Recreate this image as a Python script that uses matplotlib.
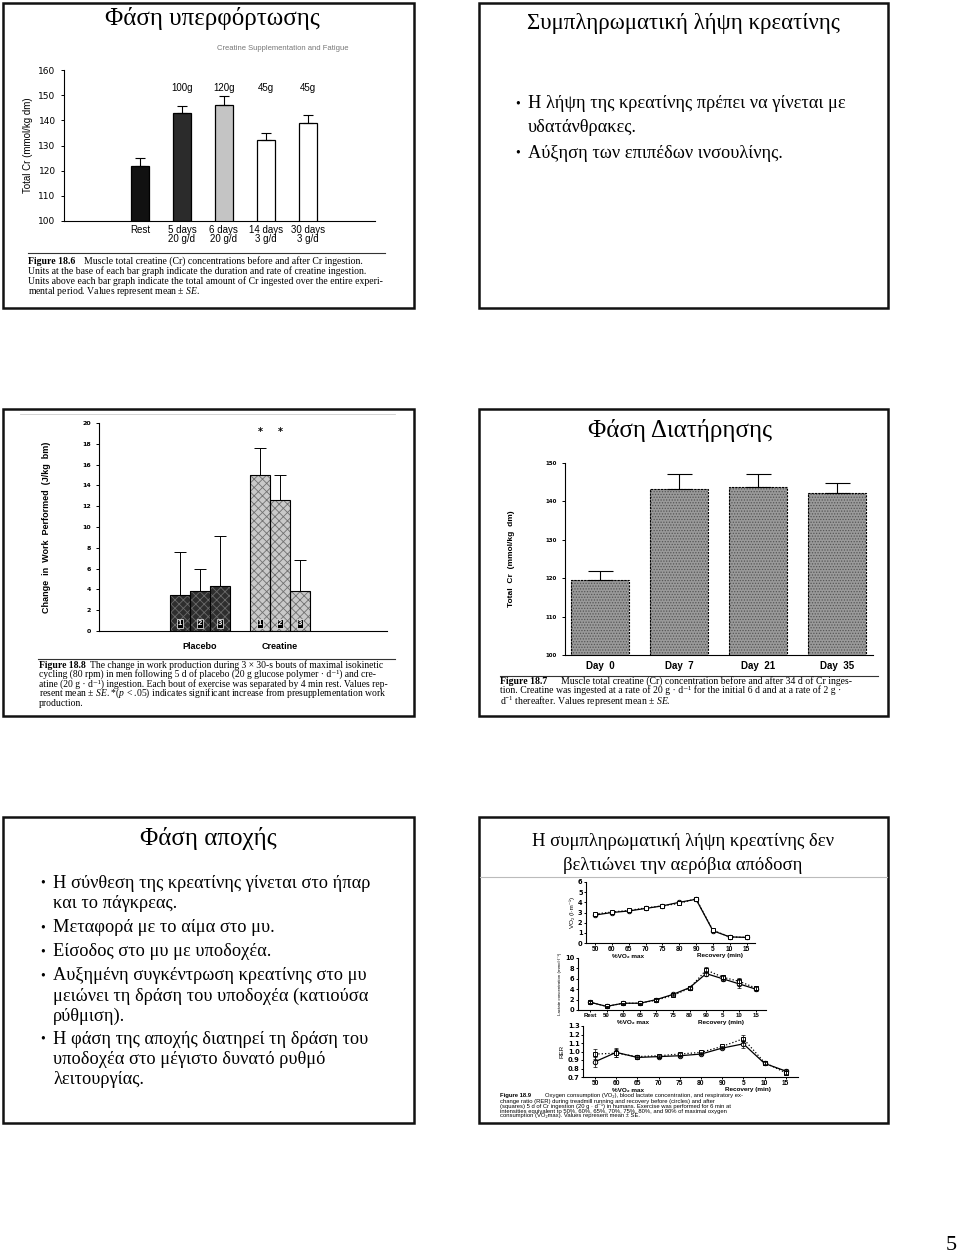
import numpy as np
import matplotlib
matplotlib.use("Agg")
import matplotlib.pyplot as plt
from matplotlib.patches import Rectangle
from matplotlib.lines import Line2D

# ---- data ----
load_labels = ["Rest", "5 days\n20 g/d", "6 days\n20 g/d", "14 days\n3 g/d", "30 days\n3 g/d"]
load_cr = [122, 143, 146, 132, 139]
load_se = [3, 2.5, 3.5, 3, 3]
load_total = ["", "100g", "120g", "45g", "45g"]
load_colors = ["#111111", "#2b2b2b", "#c4c4c4", "white", "white"]

work_groups = ["Placebo", "Creatine"]
work_bouts = ["1", "2", "3"]
work_placebo = [3.5, 3.85, 4.35]
work_placebo_se = [4.1, 2.15, 4.75]
work_creatine = [15.0, 12.6, 3.85]
work_creatine_se = [2.6, 2.4, 2.95]

maint_days = ["Day  0", "Day  7", "Day  21", "Day  35"]
maint_cr = [119.5, 143.3, 143.7, 142.3]
maint_se = [2.5, 3.9, 3.5, 2.5]

vo2_labels = ["50", "60", "65", "70", "75", "80", "90", "5", "10", "15"]
vo2_before = [2.75, 3.0, 3.15, 3.4, 3.65, 4.0, 4.3, 1.2, 0.6, 0.55]
vo2_after = [2.85, 3.05, 3.2, 3.45, 3.65, 3.9, 4.35, 1.25, 0.6, 0.55]

lac_labels = ["Rest", "50", "60", "65", "70", "75", "80", "90", "5", "10", "15"]
lac_before = [1.5, 0.7, 1.3, 1.3, 2.0, 3.0, 4.3, 7.0, 6.0, 5.0, 4.0]
lac_after = [1.5, 0.7, 1.3, 1.3, 1.9, 2.8, 4.2, 7.7, 6.3, 5.5, 4.2]
lac_se = [0.2, 0.1, 0.1, 0.1, 0.2, 0.2, 0.3, 0.5, 0.5, 0.7, 0.4]

rer_labels = ["50", "60", "65", "70", "75", "80", "90", "5", "10", "15"]
rer_before = [0.88, 0.99, 0.93, 0.94, 0.95, 0.97, 1.04, 1.09, 0.86, 0.77]
rer_after = [0.97, 0.98, 0.94, 0.95, 0.97, 0.99, 1.06, 1.15, 0.87, 0.75]
rer_se = [0.06, 0.05, 0.01, 0.01, 0.01, 0.01, 0.01, 0.05, 0.02, 0.03]

W, H = 960, 1256
SERIF = ["Liberation Serif", "DejaVu Serif"]
SANS = ["Liberation Sans", "DejaVu Sans"]

plt.rcParams["mathtext.fontset"] = "custom"
plt.rcParams["mathtext.rm"] = "Liberation Serif"
plt.rcParams["mathtext.it"] = "Liberation Serif:italic"
plt.rcParams["hatch.linewidth"] = 0.6

fig = plt.figure(figsize=(W / 100, H / 100), dpi=100)
fig.patch.set_facecolor("white")
renderer = fig.canvas.get_renderer()


def rect(x0, y0, x1, y1):
    return [x0 / W, 1 - y1 / H, (x1 - x0) / W, (y1 - y0) / H]


def ftext(x, y, s, **kw):
    kw.setdefault("family", SERIF)
    kw.setdefault("va", "center")
    return fig.text(x / W, 1 - y / H, s, **kw)


def hline(x0, x1, y, **kw):
    fig.add_artist(Line2D([x0 / W, x1 / W], [1 - y / H, 1 - y / H],
                          transform=fig.transFigure, **kw))


def slide(x0, y0, x1, y1):
    fig.add_artist(Rectangle((x0 / W, 1 - y1 / H), (x1 - x0) / W, (y1 - y0) / H,
                             transform=fig.transFigure, fill=False, lw=1.8, ec="#111111"))


def caption_first(x, x_rest, y, bold, rest, size, family=SERIF):
    t = ftext(x, y, bold, fontsize=size, weight="bold", family=family)
    bb = t.get_window_extent(renderer=renderer)
    ftext(max(x_rest, bb.x1 + 4), y, rest, fontsize=size, family=family)


def plain_axes(ax):
    for s in ["top", "right"]:
        ax.spines[s].set_visible(False)
    for s in ["left", "bottom"]:
        ax.spines[s].set_linewidth(0.8)
    ax.tick_params(direction="out", length=2.5, width=0.7)


def bullets(x, lines, size):
    for y, s, first in lines:
        if first:
            ftext(x - 13, y, "•", fontsize=size * 0.75)
        ftext(x, y, s, fontsize=size)


# slide frames
slide(3, 3, 414, 308)
slide(479, 3, 888, 308)
slide(3, 409, 414, 716)
slide(479, 409, 888, 716)
slide(3, 817, 414, 1123)
slide(479, 817, 888, 1123)

# ---------- slide 1: loading phase ----------
ftext(212, 18, "Φάση υπερφόρτωσης", fontsize=18, ha="center")
ftext(283, 48, "Creatine Supplementation and Fatigue", fontsize=5.5, ha="center",
      color="#777777", family=SANS)

ax = fig.add_axes(rect(64, 70, 375, 221))
xs = np.arange(len(load_cr))
ax.bar(xs, load_cr, width=0.42, bottom=0, color=load_colors, edgecolor="black", lw=0.9)
ax.errorbar(xs, load_cr, yerr=[np.zeros(len(load_se)), load_se], fmt="none",
            ecolor="black", elinewidth=0.8, capsize=3.5, capthick=0.8)
for x, t in zip(xs, load_total):
    ax.text(x, 153, t, ha="center", va="center", fontsize=7, family=SANS)
ax.set_ylim(100, 160)
ax.set_xlim(-1.81, 5.6)
ax.set_yticks(range(100, 161, 10))
ax.set_xticks(xs, load_labels, fontsize=7, family=SANS, linespacing=0.9)
ax.tick_params(axis="y", labelsize=6.5)
ax.set_ylabel("Total Cr (mmol/kg dm)", fontsize=7, family=SANS, labelpad=4)
plain_axes(ax)
ax.tick_params(axis="x", length=0, pad=3)

hline(28, 385, 253, color="#333333", lw=0.8)
cap = 7.0
caption_first(28, 84, 261, "Figure 18.6",
              "Muscle total creatine (Cr) concentrations before and after Cr ingestion.", cap)
ftext(28, 271, "Units at the base of each bar graph indicate the duration and rate of creatine ingestion.", fontsize=cap)
ftext(28, 281, "Units above each bar graph indicate the total amount of Cr ingested over the entire experi-", fontsize=cap)
ftext(28, 291, "mental period. Values represent mean ± $SE$.", fontsize=cap)

# ---------- slide 2: supplementation text ----------
ftext(683, 23, "Συμπληρωματική λήψη κρεατίνης", fontsize=16.5, ha="center")
bullets(528, [(104, "Η λήψη της κρεατίνης πρέπει να γίνεται με", True),
              (127, "υδατάνθρακες.", False),
              (153, "Αύξηση των επιπέδων ινσουλίνης.", True)], 13.2)

# ---------- slide 3: work performed ----------
hline(20, 395, 414, color="#cccccc", lw=0.6)
ax = fig.add_axes(rect(99, 423, 387, 631))
px = np.arange(3)
cx = np.arange(3) + 4
ax.bar(px, work_placebo, width=1.0, color="#2e2e2e", hatch="xxxx", edgecolor="#6a6a6a", lw=0)
ax.bar(cx, work_creatine, width=1.0, color="#c9c9c9", hatch="xxxx", edgecolor="#707070", lw=0)
ax.bar(np.concatenate([px, cx]), work_placebo + work_creatine, width=1.0, fill=False,
       edgecolor="black", lw=0.8)
ax.errorbar(px, work_placebo, yerr=[np.zeros(3), work_placebo_se], fmt="none",
            ecolor="black", elinewidth=0.7, capsize=4, capthick=0.7)
ax.errorbar(cx, work_creatine, yerr=[np.zeros(3), work_creatine_se], fmt="none",
            ecolor="black", elinewidth=0.7, capsize=4, capthick=0.7)
for x, b in zip(np.concatenate([px, cx]), work_bouts * 2):
    ax.text(x, 0.75, b, ha="center", va="center", fontsize=5.5, color="white",
            weight="bold", family=SANS,
            bbox=dict(boxstyle="square,pad=0.15", fc="black", ec="white", lw=0.5))
for x in cx[:2]:
    ax.text(x, 19.1, "*", ha="center", va="center", fontsize=7, weight="bold")
ax.set_ylim(0, 20)
ax.set_xlim(-4.05, 10.35)
ax.set_yticks(range(0, 21, 2))
ax.set_xticks([1, 5], work_groups, fontsize=6.5, weight="bold", family=SANS)
ax.tick_params(axis="y", labelsize=4.5)
for t in ax.get_yticklabels():
    t.set_fontweight("bold")
ax.set_ylabel("Change  in  Work  Performed  (J/kg  bm)", fontsize=6.5, weight="bold",
              family=SANS, labelpad=22)
plain_axes(ax)
ax.tick_params(axis="x", length=0, pad=8)

hline(38, 395, 659, color="#333333", lw=0.8)
cap = 6.9
caption_first(39, 85, 665, "Figure 18.8",
              "The change in work production during 3 × 30-s bouts of maximal isokinetic", cap)
ftext(39, 674.5, "cycling (80 rpm) in men following 5 d of placebo (20 g glucose polymer · d⁻¹) and cre-", fontsize=cap)
ftext(39, 684, "atine (20 g · d⁻¹) ingestion. Each bout of exercise was separated by 4 min rest. Values rep-", fontsize=cap)
ftext(39, 693.5, "resent mean ± $SE$. *($p$ < .05) indicates significant increase from presupplementation work", fontsize=cap)
ftext(39, 703, "production.", fontsize=cap)

# ---------- slide 4: maintenance ----------
ftext(680, 430, "Φάση Διατήρησης", fontsize=18, ha="center")
ax = fig.add_axes(rect(565, 463, 873, 655))
mx = np.arange(len(maint_cr))
ax.bar(mx, maint_cr, width=0.74, color="#9a9a9a", hatch="......", edgecolor="#555555", lw=0)
ax.bar(mx, maint_cr, width=0.74, fill=False, edgecolor="black", lw=0.8, ls=(0, (2, 1)))
ax.errorbar(mx, maint_cr, yerr=[np.zeros(len(maint_se)), maint_se], fmt="none",
            ecolor="black", elinewidth=0.8, capsize=9, capthick=0.8)
ax.set_ylim(100, 150)
ax.set_xlim(-0.443, 3.456)
ax.set_yticks(range(100, 151, 10))
ax.set_xticks(mx, maint_days, fontsize=7, weight="bold", family=SANS)
ax.tick_params(axis="y", labelsize=4)
for t in ax.get_yticklabels():
    t.set_fontweight("bold")
ax.set_ylabel("Total  Cr  (mmol/kg  dm)", fontsize=6, weight="bold", family=SANS, labelpad=22)
plain_axes(ax)
ax.tick_params(axis="x", length=0, pad=4)

hline(500, 878, 676, color="#333333", lw=0.8)
cap = 7.0
caption_first(500, 561, 681, "Figure 18.7",
              "Muscle total creatine (Cr) concentration before and after 34 d of Cr inges-", cap)
ftext(500, 690.5, "tion. Creatine was ingested at a rate of 20 g · d⁻¹ for the initial 6 d and at a rate of 2 g ·", fontsize=cap)
ftext(500, 701.5, "d$^{-1}$ thereafter. Values represent mean ± $SE$.", fontsize=cap)

# ---------- slide 5: withdrawal text ----------
ftext(208, 838, "Φάση αποχής", fontsize=18, ha="center")
bullets(53, [(883, "Η σύνθεση της κρεατίνης γίνεται στο ήπαρ", True),
             (903, "και το πάγκρεας.", False),
             (928, "Μεταφορά με το αίμα στο μυ.", True),
             (952, "Είσοδος στο μυ με υποδοχέα.", True),
             (976, "Αυξημένη συγκέντρωση κρεατίνης στο μυ", True),
             (996, "μειώνει τη δράση του υποδοχέα (κατιούσα", False),
             (1016, "ρύθμιση).", False),
             (1039, "Η φάση της αποχής διατηρεί τη δράση του", True),
             (1059, "υποδοχέα στο μέγιστο δυνατό ρυθμό", False),
             (1079, "λειτουργίας.", False)], 13.2)

# ---------- slide 6: aerobic performance ----------
ftext(683, 842, "Η συμπληρωματική λήψη κρεατίνης δεν", fontsize=13.4, ha="center")
ftext(683, 865, "βελτιώνει την αερόβια απόδοση", fontsize=13.4, ha="center")
hline(480, 887, 877, color="#bbbbbb", lw=0.8)


def small_panel(box, labels, before, after, ylim, yticks, ylabel, ylsize, xl, se=None, tsize=4.8):
    ax = fig.add_axes(rect(*box))
    xi = np.arange(len(labels))
    ax.plot(xi, before, "-", color="black", lw=0.9, marker="o", ms=3.2, mfc="white", mew=0.7)
    ax.plot(xi, after, ":", color="black", lw=0.9, marker="s", ms=2.6, mfc="white", mew=0.7)
    if se is not None:
        ax.errorbar(xi, before, yerr=se, fmt="none", ecolor="black", elinewidth=0.5,
                    capsize=1.2, capthick=0.5)
        ax.errorbar(xi, after, yerr=se, fmt="none", ecolor="black", elinewidth=0.5,
                    capsize=1.2, capthick=0.5)
    ax.set_ylim(*ylim)
    ax.set_xlim(*xl)
    ax.set_yticks(yticks)
    ax.set_xticks(xi, labels, fontsize=tsize, weight="bold", family=SANS)
    ax.tick_params(axis="y", labelsize=4.8)
    for t in ax.get_yticklabels():
        t.set_fontweight("bold")
    ax.set_ylabel(ylabel, fontsize=ylsize, family=SANS, labelpad=2)
    plain_axes(ax)
    ax.tick_params(length=1.5, pad=1)
    return ax


def row_labels(y, x_left, x_right):
    ftext(x_left, y, "%VO₂ max", fontsize=4.6, weight="bold", family=SANS, ha="center")
    ftext(x_right, y, "Recovery (min)", fontsize=4.6, weight="bold", family=SANS, ha="center")


small_panel((586, 882, 755, 943), vo2_labels, vo2_before, vo2_after, (0, 6),
            range(0, 7), "V̇O₂ (l·m⁻¹)", 4.5, (-0.54, 9.5))
row_labels(956, 628, 720)

small_panel((578, 958, 766, 1010), lac_labels, lac_before, lac_after, (0, 10),
            range(0, 11, 2), "Lactate concentration (mmol·l⁻¹)", 3.2, (-0.72, 10.6),
            se=lac_se, tsize=4.4)
row_labels(1022.5, 633, 721)

ax = small_panel((583, 1026, 798, 1077), rer_labels, rer_before, rer_after, (0.7, 1.3),
                 np.round(np.arange(0.7, 1.31, 0.1), 1), "RER", 4.5, (-0.57, 9.58), se=rer_se)
ax.set_yticklabels([f"{v:.1f}" for v in np.arange(0.7, 1.31, 0.1)], fontsize=4.8, weight="bold")
row_labels(1090, 628, 748)

cap = 4.2
caption_first(500, 545, 1096, "Figure 18.9",
              "Oxygen consumption (V̇O₂), blood lactate concentration, and respiratory ex-",
              cap, family=SANS)
ftext(500, 1101, "change ratio (RER) during treadmill running and recovery before (circles) and after", fontsize=cap, family=SANS)
ftext(500, 1106, "(squares) 5 d of Cr ingestion (20 g · d⁻¹) in humans. Exercise was performed for 6 min at", fontsize=cap, family=SANS)
ftext(500, 1111, "intensities equivalent to 50%, 60%, 65%, 70%, 75%, 80%, and 90% of maximal oxygen", fontsize=cap, family=SANS)
ftext(500, 1116, "consumption (V̇O₂max). Values represent mean ± SE.", fontsize=cap, family=SANS)

# page number
ftext(951, 1245, "5", fontsize=16, ha="center")

fig.savefig("out.png", dpi=100)
